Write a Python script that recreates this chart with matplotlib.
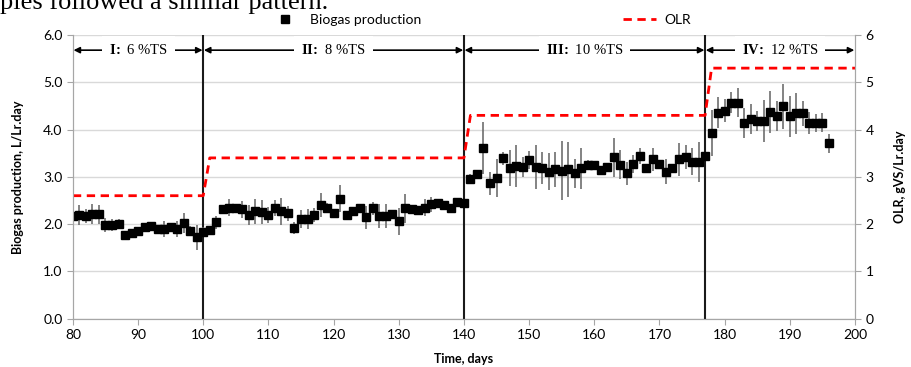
'''
Biogas production and OLR against time for the four TS phases.
'''
import numpy as np
import matplotlib
matplotlib.use("Agg")
import matplotlib.pyplot as plt
from matplotlib.lines import Line2D

# Daily biogas production (L/Lr.day) and its error
days = list(range(80, 197))
biogas = [2.17, 2.19, 2.17, 2.21, 2.21, 1.98, 1.98, 2.00, 1.77, 1.82,
          1.85, 1.93, 1.96, 1.89, 1.89, 1.94, 1.89, 2.03, 1.85, 1.72,
          1.84, 1.87, 2.04, 2.31, 2.35, 2.33, 2.31, 2.19, 2.27, 2.25,
          2.19, 2.33, 2.27, 2.23, 1.91, 2.10, 2.10, 2.19, 2.40, 2.35,
          2.23, 2.54, 2.19, 2.28, 2.33, 2.14, 2.33, 2.17, 2.17, 2.21,
          2.06, 2.33, 2.31, 2.30, 2.34, 2.42, 2.44, 2.40, 2.33, 2.46,
          2.44, 2.95, 3.05, 3.60, 2.86, 2.97, 3.39, 3.18, 3.23, 3.21,
          3.35, 3.21, 3.18, 3.11, 3.16, 3.13, 3.16, 3.07, 3.18, 3.25,
          3.25, 3.15, 3.21, 3.41, 3.26, 3.07, 3.28, 3.44, 3.18, 3.37,
          3.28, 3.11, 3.18, 3.37, 3.42, 3.32, 3.32, 3.44, 3.92, 4.36,
          4.40, 4.57, 4.57, 4.14, 4.22, 4.18, 4.18, 4.37, 4.28, 4.49,
          4.28, 4.34, 4.34, 4.14, 4.14, 4.14, 3.71]
biogas_err = [0.19, 0.21, 0.15, 0.21, 0.20, 0.14, 0.13, 0.10, 0.08, 0.07,
              0.07, 0.07, 0.07, 0.09, 0.17, 0.09, 0.17, 0.21, 0.10, 0.27,
              0.10, 0.06, 0.14, 0.10, 0.19, 0.10, 0.18, 0.22, 0.26, 0.25,
              0.17, 0.17, 0.29, 0.16, 0.13, 0.19, 0.21, 0.14, 0.25, 0.09,
              0.07, 0.28, 0.07, 0.09, 0.07, 0.25, 0.14, 0.25, 0.26, 0.05,
              0.29, 0.30, 0.09, 0.08, 0.18, 0.16, 0.07, 0.08, 0.07, 0.07,
              0.07, 0.10, 0.06, 0.55, 0.25, 0.40, 0.14, 0.38, 0.44, 0.21,
              0.19, 0.47, 0.34, 0.39, 0.37, 0.62, 0.58, 0.30, 0.44, 0.10,
              0.07, 0.07, 0.08, 0.42, 0.30, 0.25, 0.19, 0.16, 0.09, 0.24,
              0.08, 0.26, 0.10, 0.35, 0.25, 0.29, 0.42, 0.09, 0.49, 0.33,
              0.25, 0.22, 0.31, 0.31, 0.32, 0.21, 0.45, 0.45, 0.32, 0.48,
              0.44, 0.44, 0.27, 0.23, 0.19, 0.20, 0.20]

# OLR steps (gVS/Lr.day)
olr_days = [80, 100, 101, 140, 141, 177, 178, 200]
olr_values = [2.6, 2.6, 3.4, 3.4, 4.3, 4.3, 5.3, 5.3]

# Phases
phase_bounds = [80, 100, 140, 177, 200]
phase_names = ["I", "II", "III", "IV"]
phase_ts = ["6 %TS", "8 %TS", "10 %TS", "12 %TS"]

plt.rcParams['font.family'] = ['Lato', 'DejaVu Sans']
plt.rcParams['mathtext.fontset'] = 'custom'
plt.rcParams['mathtext.rm'] = 'Liberation Serif'
plt.rcParams['mathtext.bf'] = 'Liberation Serif:bold'

fig = plt.figure(figsize=(9.11, 3.67), dpi=100)
ax = fig.add_axes([0.080, 0.132, 0.8585, 0.7725])
ax2 = ax.twinx()

gray = '#a6a6a6'

# Biogas with error bars
ax.errorbar(days, biogas, yerr=biogas_err, fmt='s', color='black', ms=6.3,
            ecolor='#6e6e6e', elinewidth=1.2, capsize=0, zorder=4)

# OLR on right axis
ax2.plot(olr_days, olr_values, color='#ff0000', lw=2, linestyle=(0, (3, 2)))

# Phase separators
for b in phase_bounds[1:-1]:
    ax.axvline(b, color='#1a1a1a', lw=1.5, zorder=3)

# Phase arrows with labels
y_arrow = 5.68
for i in range(len(phase_names)):
    x0, x1 = phase_bounds[i], phase_bounds[i+1]
    ax.annotate("", xy=(x0 + 0.1, y_arrow), xytext=(x1 - 0.1, y_arrow),
                arrowprops=dict(arrowstyle='<|-|>', color='black', lw=1.2,
                                mutation_scale=9, shrinkA=0, shrinkB=0))
    lbl = r"$\mathbf{" + phase_names[i] + r"\!{:}}$ " + phase_ts[i]
    ax.text((x0 + x1) / 2, y_arrow, lbl, ha='center', va='center',
            fontsize=10.5, family='Liberation Serif', zorder=5,
            bbox=dict(facecolor='white', edgecolor='none', pad=5))

# Axes formatting
ax.set_xlim(80, 200)
ax.set_ylim(0, 6)
ax2.set_ylim(0, 6)
ax.set_xticks(range(80, 201, 10))
ax.set_yticks(np.arange(0, 6.1, 1))
ax.set_yticklabels(["%.1f" % v for v in np.arange(0, 6.1, 1)])
ax2.set_yticks(range(0, 7))
ax.grid(axis='y', color='#d9d9d9', lw=1)
ax.set_axisbelow(True)

for a in (ax, ax2):
    for s in a.spines.values():
        s.set_color(gray)
    a.spines['top'].set_visible(False)
    a.tick_params(colors=gray, labelcolor='black', labelsize=10, length=4)

ax.set_xlabel("Time, days", fontsize=9, fontweight='bold', labelpad=9)
ax.set_ylabel("Biogas production, L/Lr.day", fontsize=9, fontweight='bold',
              labelpad=14)
ax2.set_ylabel("OLR, gVS/Lr.day", fontsize=9, fontweight='bold', labelpad=15)

# Legend above the plot
handles = [Line2D([], [], marker='s', color='black', linestyle='none', ms=6),
           Line2D([], [], color='#ff0000', lw=2, linestyle=(0, (3, 2)))]
fig.legend(handles, ["Biogas production", "OLR"], loc='center',
           bbox_to_anchor=(0.527, 0.945), ncol=2, frameon=False, fontsize=10,
           columnspacing=14.5, handlelength=2.4, handletextpad=0.6)

# Cut-off line of the surrounding document text
fig.text(0.0, 0.976, "ples followed a similar pattern.", fontsize=19,
         family='Liberation Serif', va='baseline', ha='left')

fig.savefig("out.png", dpi=100)
